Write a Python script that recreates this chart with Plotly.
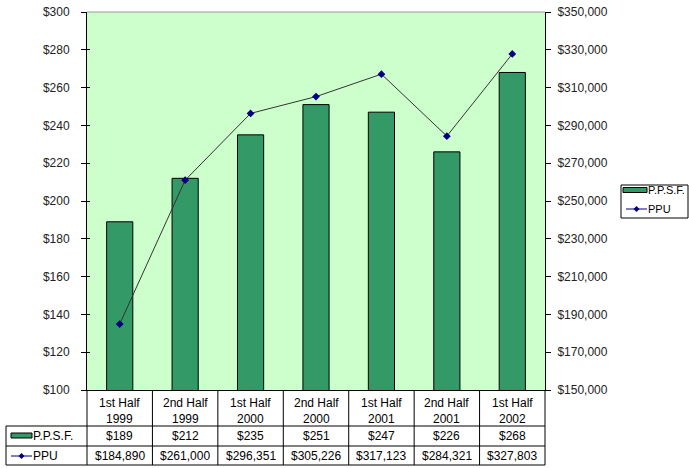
import plotly.graph_objects as go

categories = ["1st Half<br>1999", "2nd Half<br>1999", "1st Half<br>2000", "2nd Half<br>2000",
              "1st Half<br>2001", "2nd Half<br>2001", "1st Half<br>2002"]
ppsf = [189, 212, 235, 251, 247, 226, 268]
ppu = [184890, 261000, 296351, 305226, 317123, 284321, 327803]
left_ticks = list(range(100, 301, 20))
right_ticks = list(range(150000, 350001, 20000))
series_names = ["P.P.S.F.", "PPU"]

W, H = 689, 468
L, R, T, B = 87, 545, 12, 390
pw, ph = R - L, B - T

def px(x):
    return (x - L) / pw

def py(y):
    return (B - y) / ph

FONT = "Liberation Sans, Arial, sans-serif"
BAR_C = "#339966"
MK_C = "#000080"
idx = list(range(len(categories)))

fig = go.Figure()
fig.add_trace(go.Bar(x=idx, y=ppsf, name=series_names[0], width=0.4,
                     marker=dict(color=BAR_C, line=dict(color="black", width=1)),
                     base=0, showlegend=False))
fig.add_trace(go.Scatter(x=idx, y=ppu, name=series_names[1], yaxis="y2", mode="lines+markers",
                         line=dict(color="#333333", width=1),
                         marker=dict(symbol="diamond", size=6, color=MK_C), showlegend=False))

shapes = []
annotations = []
n = len(categories)
BLK = dict(color="black", width=1)
# plot border (gray top)
shapes.append(dict(type="line", xref="paper", yref="paper", x0=0, x1=1, y0=1, y1=1,
                   line=dict(color="#999999", width=1)))
# table horizontal lines
for yy, x0 in [(426, px(6)), (446, px(6)), (465, px(6))]:
    shapes.append(dict(type="line", xref="paper", yref="paper", x0=x0, x1=1, y0=py(yy), y1=py(yy), line=BLK))
# vertical lines
for i in range(n + 1):
    shapes.append(dict(type="line", xref="paper", yref="paper", x0=i / n, x1=i / n,
                       y0=py(390), y1=py(465), line=BLK))
shapes.append(dict(type="line", xref="paper", yref="paper", x0=px(6), x1=px(6),
                   y0=py(426), y1=py(465), line=BLK))

def bar_key(x0, x1, yc, h):
    shapes.append(dict(type="rect", xref="paper", yref="paper", x0=px(x0), x1=px(x1),
                       y0=py(yc - h / 2), y1=py(yc + h / 2), fillcolor=BAR_C, line=BLK))

def line_key(x0, x1, yc):
    xm = (x0 + x1) / 2
    shapes.append(dict(type="line", xref="paper", yref="paper", x0=px(x0), x1=px(x1),
                       y0=py(yc), y1=py(yc), line=dict(color=MK_C, width=1)))
    shapes.append(dict(type="path", xref="paper", yref="paper",
                       path=f"M {px(xm)} {py(yc - 3)} L {px(xm + 3)} {py(yc)} L {px(xm)} {py(yc + 3)} L {px(xm - 3)} {py(yc)} Z",
                       fillcolor=MK_C, line=dict(color=MK_C, width=0)))

# legend keys inside table
bar_key(11, 32, 435.5, 5)
line_key(11, 32, 456)

for i, c in enumerate(categories):
    annotations.append(dict(x=i, xref="x", y=py(411), yref="paper", text=c, showarrow=False,
                            yanchor="middle", font=dict(family=FONT, size=12, color="black"), align="center"))
    annotations.append(dict(x=i, xref="x", y=py(436), yref="paper", text=f"${ppsf[i]}", showarrow=False,
                            yanchor="middle", font=dict(family=FONT, size=12, color="black")))
    annotations.append(dict(x=i, xref="x", y=py(456), yref="paper", text=f"${ppu[i]:,}", showarrow=False,
                            yanchor="middle", font=dict(family=FONT, size=12, color="black")))
annotations.append(dict(x=px(31), xref="paper", y=py(436), yref="paper", text=series_names[0], showarrow=False,
                        xanchor="left", yanchor="middle", font=dict(family=FONT, size=12, color="black")))
annotations.append(dict(x=px(31), xref="paper", y=py(456), yref="paper", text=series_names[1], showarrow=False,
                        xanchor="left", yanchor="middle", font=dict(family=FONT, size=12, color="black")))

# custom legend box on the right
shapes.append(dict(type="rect", xref="paper", yref="paper", x0=px(621), x1=px(688),
                   y0=py(185), y1=py(218), fillcolor="white", line=BLK))
bar_key(623, 647, 190, 5)
line_key(626, 647, 209)
annotations.append(dict(x=px(646), xref="paper", y=py(190), yref="paper", text=series_names[0], showarrow=False,
                        xanchor="left", yanchor="middle", font=dict(family=FONT, size=11, color="black")))
annotations.append(dict(x=px(646), xref="paper", y=py(209), yref="paper", text=series_names[1], showarrow=False,
                        xanchor="left", yanchor="middle", font=dict(family=FONT, size=11, color="black")))

fig.update_layout(
    width=W, height=H,
    margin=dict(l=L, r=W - R, t=T, b=H - B, pad=0, autoexpand=False),
    paper_bgcolor="white", plot_bgcolor="#CCFFCC",
    font=dict(family=FONT, size=12, color="#222222"),
    showlegend=False,
    xaxis=dict(range=[-0.5, n - 0.5], showticklabels=False, showgrid=False, zeroline=False,
               showline=True, linecolor="black", linewidth=1, ticks=""),
    yaxis=dict(range=[100, 300], tickvals=left_ticks, ticktext=[f"${v}" for v in left_ticks],
               showgrid=False, zeroline=False, showline=True, linecolor="black", linewidth=1,
               ticks="outside", ticklen=5, tickcolor="black", ticklabelstandoff=9,
               tickfont=dict(size=12, color="#222222")),
    yaxis3=dict(range=[100, 300], tickvals=left_ticks, overlaying="y", side="left",
                showticklabels=False, showgrid=False, zeroline=False, showline=False,
                ticks="inside", ticklen=3, tickcolor="black"),
    yaxis2=dict(range=[150000, 350000], overlaying="y", side="right",
                tickvals=right_ticks, ticktext=[f"${v:,}" for v in right_ticks],
                showgrid=False, zeroline=False, showline=True, linecolor="black", linewidth=1,
                ticks="outside", ticklen=5, tickcolor="black", ticklabelstandoff=4,
                tickfont=dict(size=12, color="#222222")),
    shapes=shapes, annotations=annotations,
)
# invisible anchor trace so the inner-tick axis is drawn
fig.add_trace(go.Scatter(x=[idx[0]], y=[left_ticks[0]], yaxis="y3", mode="markers",
                         marker=dict(opacity=0), hoverinfo="skip", showlegend=False))

fig.write_html("out.html", config={"displayModeBar": False},
               post_script="document.body.style.margin='0px';")
